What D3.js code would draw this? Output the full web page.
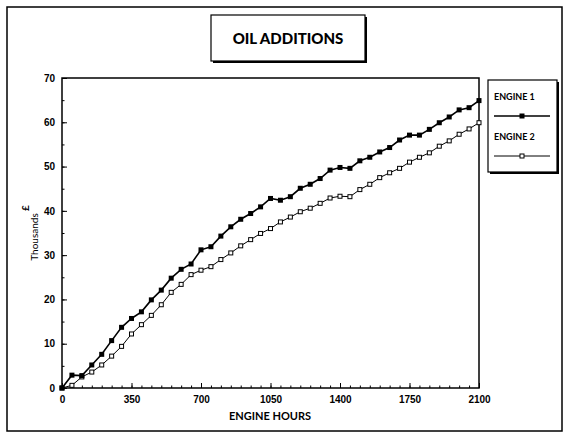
<!DOCTYPE html>
<html>
  <head>
    <style>
      body {
        margin: 0;
        background: #fff;
        font-family: Lato, "DejaVu Sans", sans-serif;
      }
      text { fill: #000; }
      .axis text {
        font-size: 10px;
        font-weight: bold;
        fill: #000;
      }
      .axis path { display: none; }
      .axis line { stroke: #000; }
      .eng1 { fill: none; stroke: #000; stroke-width: 1.6px; }
      .eng2 { fill: none; stroke: #000; stroke-width: 1px; }
    </style>
  </head>
  <body>
    <script src="https://d3js.org/d3.v7.min.js"></script>
    <script>
      // engine hours, read every 50 h off the picture
      var hours = d3.range(0, 2101, 50);
      var engine1 = [0, 2.9, 2.8, 5.2, 7.6, 10.7, 13.7, 15.7, 17.2, 19.9, 22.1, 24.8, 26.8, 28.0, 31.2,
                     31.9, 34.3, 36.4, 38.1, 39.4, 40.9, 42.8, 42.4, 43.2, 45.1, 46.0, 47.3, 49.2, 49.8,
                     49.6, 51.3, 52.1, 53.3, 54.3, 56.0, 57.1, 57.1, 58.4, 59.9, 61.2, 62.8, 63.3, 64.9];
      var engine2 = [0, 0.6, 2.5, 3.6, 5.2, 7.2, 9.4, 12.2, 14.3, 16.4, 18.8, 21.6, 23.4, 25.6, 26.6,
                     27.4, 29.0, 30.5, 32.1, 33.5, 34.9, 36.0, 37.5, 38.6, 39.8, 40.6, 41.7, 42.9, 43.3,
                     43.2, 44.8, 46.0, 47.5, 48.6, 49.6, 51.0, 52.1, 53.1, 54.6, 55.8, 57.3, 58.5, 59.9];
      var xTicks = [0, 350, 700, 1050, 1400, 1750, 2100];
      var yTicks = [0, 10, 20, 30, 40, 50, 60, 70];
      var seriesNames = ["ENGINE 1", "ENGINE 2"];

      var W = 567, H = 440;
      var svg = d3.select("body").append("svg")
        .attr("width", W)
        .attr("height", H);

      // outer frame
      svg.append("rect")
        .attr("x", 7).attr("y", 7).attr("width", 555).attr("height", 424)
        .attr("fill", "#fff").attr("stroke", "#000").attr("stroke-width", 1.5);

      // box with a drop shadow
      function shadowBox(x, y, w, h) {
        svg.append("rect").attr("x", x + 2).attr("y", y + 2).attr("width", w).attr("height", h)
          .attr("fill", "#000");
        svg.append("rect").attr("x", x).attr("y", y).attr("width", w).attr("height", h)
          .attr("fill", "#fff").attr("stroke", "#000").attr("stroke-width", 1.2);
      }

      shadowBox(211, 15, 154, 46);
      svg.append("text")
        .attr("x", 288).attr("y", 44)
        .attr("text-anchor", "middle")
        .style("font-size", "15px").style("font-weight", "900")
        .text("OIL ADDITIONS");

      var x = d3.scaleLinear().domain([0, 2100]).range([62, 479]);
      var y = d3.scaleLinear().domain([0, 70]).range([388, 78]);

      // plot frame
      svg.append("rect")
        .attr("x", x(0)).attr("y", y(70))
        .attr("width", x(2100) - x(0)).attr("height", y(0) - y(70))
        .attr("fill", "none").attr("stroke", "#000").attr("stroke-width", 1.5);

      // minor ticks (inside)
      svg.append("g").attr("class", "axis")
        .attr("transform", "translate(0," + y(0) + ")")
        .call(d3.axisBottom(x).tickValues(d3.range(0, 2101, 50)).tickSize(-2.5).tickFormat(""));
      svg.append("g").attr("class", "axis")
        .attr("transform", "translate(" + x(0) + ",0)")
        .call(d3.axisLeft(y).tickValues(d3.range(0, 71, 5)).tickSize(-2.5).tickFormat(""));

      // major ticks with labels
      svg.append("g").attr("class", "axis")
        .attr("transform", "translate(0," + y(0) + ")")
        .call(d3.axisBottom(x).tickValues(xTicks).tickSize(-5).tickPadding(8).tickFormat(d3.format("d")));
      svg.append("g").attr("class", "axis")
        .attr("transform", "translate(" + x(0) + ",0)")
        .call(d3.axisLeft(y).tickValues(yTicks).tickSize(-5).tickPadding(7).tickFormat(d3.format("d")));

      // axis titles
      svg.append("text")
        .attr("x", 270).attr("y", 420)
        .attr("text-anchor", "middle")
        .style("font-size", "11px").style("font-weight", "bold")
        .text("ENGINE HOURS");
      svg.append("text")
        .attr("transform", "translate(38,237) rotate(-90)")
        .attr("text-anchor", "middle")
        .style("font-size", "10px")
        .text("Thousands");
      svg.append("text")
        .attr("transform", "translate(29,208) rotate(-90)")
        .attr("text-anchor", "middle")
        .style("font-size", "10px").style("font-weight", "bold")
        .text("£");

      var line = d3.line()
        .x(function(d, i) { return x(hours[i]); })
        .y(function(d) { return y(d); });

      svg.append("path").datum(engine2).attr("class", "eng2").attr("d", line);
      svg.append("path").datum(engine1).attr("class", "eng1").attr("d", line);

      svg.selectAll(".m2").data(engine2).enter().append("rect")
        .attr("class", "m2")
        .attr("x", function(d, i) { return x(hours[i]) - 2; })
        .attr("y", function(d) { return y(d) - 2; })
        .attr("width", 4).attr("height", 4)
        .attr("fill", "#fff").attr("stroke", "#000").attr("stroke-width", 1);
      svg.selectAll(".m1").data(engine1).enter().append("rect")
        .attr("class", "m1")
        .attr("x", function(d, i) { return x(hours[i]) - 2.5; })
        .attr("y", function(d) { return y(d) - 2.5; })
        .attr("width", 5).attr("height", 5)
        .attr("fill", "#000");

      // legend
      shadowBox(488, 80, 69, 92);
      seriesNames.forEach(function(name, i) {
        var ly = 100 + i * 40;
        svg.append("text")
          .attr("x", 494).attr("y", ly)
          .style("font-size", "9px").style("font-weight", "bold")
          .text(name);
        svg.append("line")
          .attr("x1", 494).attr("x2", 550).attr("y1", ly + 16).attr("y2", ly + 16)
          .attr("stroke", "#000").attr("stroke-width", i === 0 ? 1.6 : 1);
        if (i === 0) {
          svg.append("rect").attr("x", 519.5).attr("y", ly + 13.5).attr("width", 5).attr("height", 5)
            .attr("fill", "#000");
        } else {
          svg.append("rect").attr("x", 520).attr("y", ly + 14).attr("width", 4).attr("height", 4)
            .attr("fill", "#fff").attr("stroke", "#000");
        }
      });
    </script>
  </body>
</html>
